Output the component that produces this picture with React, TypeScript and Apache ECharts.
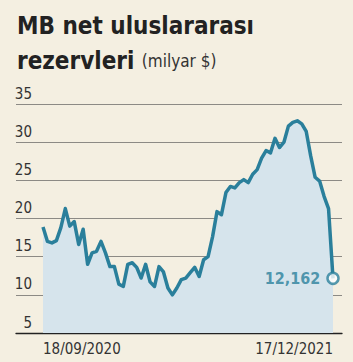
import React, { useEffect, useRef } from "react";
import * as echarts from "echarts";

// Weekly reserves (billion $), 18/09/2020 .. 17/12/2021
const reserves: number[] = [
  18.9, 17.0, 16.8, 17.1, 18.8, 21.3, 19.0, 19.6, 16.6, 18.6,
  14.0, 15.5, 15.7, 17.0, 15.5, 13.7, 13.7, 11.4, 11.1, 14.0,
  14.2, 13.6, 12.2, 14.0, 11.7, 11.1, 13.7, 13.0, 10.9, 10.0,
  10.9, 12.0, 12.2, 12.9, 13.6, 12.4, 14.6, 15.0, 17.6, 20.9,
  20.5, 23.4, 24.2, 24.0, 24.7, 25.1, 24.7, 25.8, 26.4, 27.9,
  28.9, 28.6, 30.5, 29.3, 30.0, 32.1, 32.6, 32.8, 32.4, 31.4,
  28.2, 25.4, 24.9, 22.9, 21.3, 12.162,
];

const firstDate = "18/09/2020";
const lastDate = "17/12/2021";
const lastLabel = "12,162";
const yTicks = [5, 10, 15, 20, 25, 30, 35];

function weeklyDates(count: number): string[] {
  const out: string[] = [];
  const start = new Date(Date.UTC(2020, 8, 18));
  for (let i = 0; i < count; i++) {
    const d = new Date(start.getTime() + i * 7 * 86400000);
    const dd = String(d.getUTCDate()).padStart(2, "0");
    const mm = String(d.getUTCMonth() + 1).padStart(2, "0");
    out.push(`${dd}/${mm}/${d.getUTCFullYear()}`);
  }
  return out;
}

const categories = weeklyDates(reserves.length);

const LINE = "#2a7f9b";
const FONT = "'DejaVu Sans Condensed', 'Liberation Sans', sans-serif";

export default function App() {
  const ref = useRef<HTMLDivElement>(null);
  useEffect(() => {
    if (!ref.current) return;
    const chart = echarts.init(ref.current, null, { renderer: "svg" });
    const lastIdx = reserves.length - 1;
    chart.setOption({
      animation: false,
      backgroundColor: "#f4efe1",
      title: {
        left: 12,
        top: 3,
        text: "MB net uluslararası\n{b|rezervleri} {c|(milyar $)}",
        textStyle: {
          fontFamily: FONT,
          fontSize: 24,
          fontWeight: "bold",
          color: "#222222",
          lineHeight: 35,
          rich: {
            b: { fontFamily: FONT, fontSize: 24, fontWeight: "bold", color: "#222222", lineHeight: 35 },
            c: { fontFamily: FONT, fontSize: 17, fontWeight: "normal", color: "#333333", lineHeight: 35 },
          },
        },
      },
      grid: [
        { left: 43, right: 20, top: 104, bottom: 29, containLabel: false },
        { left: 16, right: 11, top: 104, bottom: 29, containLabel: false },
      ],
      xAxis: [
        {
          type: "category",
          gridIndex: 0,
          data: categories,
          boundaryGap: false,
          axisLine: { show: false },
          axisTick: { show: false },
          axisLabel: {
            interval: (i: number) => i === 0 || i === lastIdx,
            formatter: (v: string) => (v === categories[0] ? firstDate : v === categories[lastIdx] ? lastDate : ""),
            alignMinLabel: "left",
            alignMaxLabel: "right",
            fontFamily: FONT,
            fontSize: 15,
            color: "#333333",
            margin: 8,
          },
          splitLine: { show: false },
        },
        {
          type: "value",
          gridIndex: 1,
          min: 0,
          max: 1,
          axisLine: { show: true, lineStyle: { color: "#222222", width: 1.3 } },
          axisTick: { show: false },
          axisLabel: { show: false },
          splitLine: { show: false },
        },
      ],
      yAxis: [
        {
          type: "value",
          gridIndex: 0,
          min: 5,
          max: 35,
          interval: 5,
          show: false,
        },
        {
          type: "value",
          gridIndex: 1,
          min: 5,
          max: 35,
          interval: 5,
          axisLine: { show: false },
          axisTick: { show: false },
          splitLine: { show: true, lineStyle: { color: "#8c8a85", width: 1 } },
          axisLabel: {
            inside: true,
            margin: 16,
            align: "right",
            verticalAlign: "bottom",
            padding: [0, 0, 3, 0],
            fontFamily: FONT,
            fontSize: 15,
            color: "#333333",
            formatter: (v: number) => (yTicks.includes(v) ? String(v) : ""),
          },
        },
      ],
      series: [
        {
          type: "line",
          xAxisIndex: 0,
          yAxisIndex: 0,
          data: reserves,
          showSymbol: false,
          symbol: "none",
          lineStyle: { color: LINE, width: 3.5, join: "round" },
          areaStyle: { color: "#d6e4ec", opacity: 1, origin: "start" },
          z: 3,
        },
        {
          type: "scatter",
          xAxisIndex: 0,
          yAxisIndex: 0,
          data: [[lastIdx, reserves[lastIdx]]],
          symbol: "circle",
          symbolSize: 11,
          itemStyle: { color: "#ffffff", borderColor: LINE, borderWidth: 2.5 },
          label: {
            show: true,
            position: "left",
            distance: 6,
            formatter: lastLabel,
            fontFamily: FONT,
            fontSize: 16,
            fontWeight: "bold",
            color: LINE,
          },
          z: 4,
        },
      ],
    });
    return () => chart.dispose();
  }, []);
  return <div ref={ref} style={{ width: 353, height: 362, position: "absolute", left: 0, top: 0 }} />;
}
